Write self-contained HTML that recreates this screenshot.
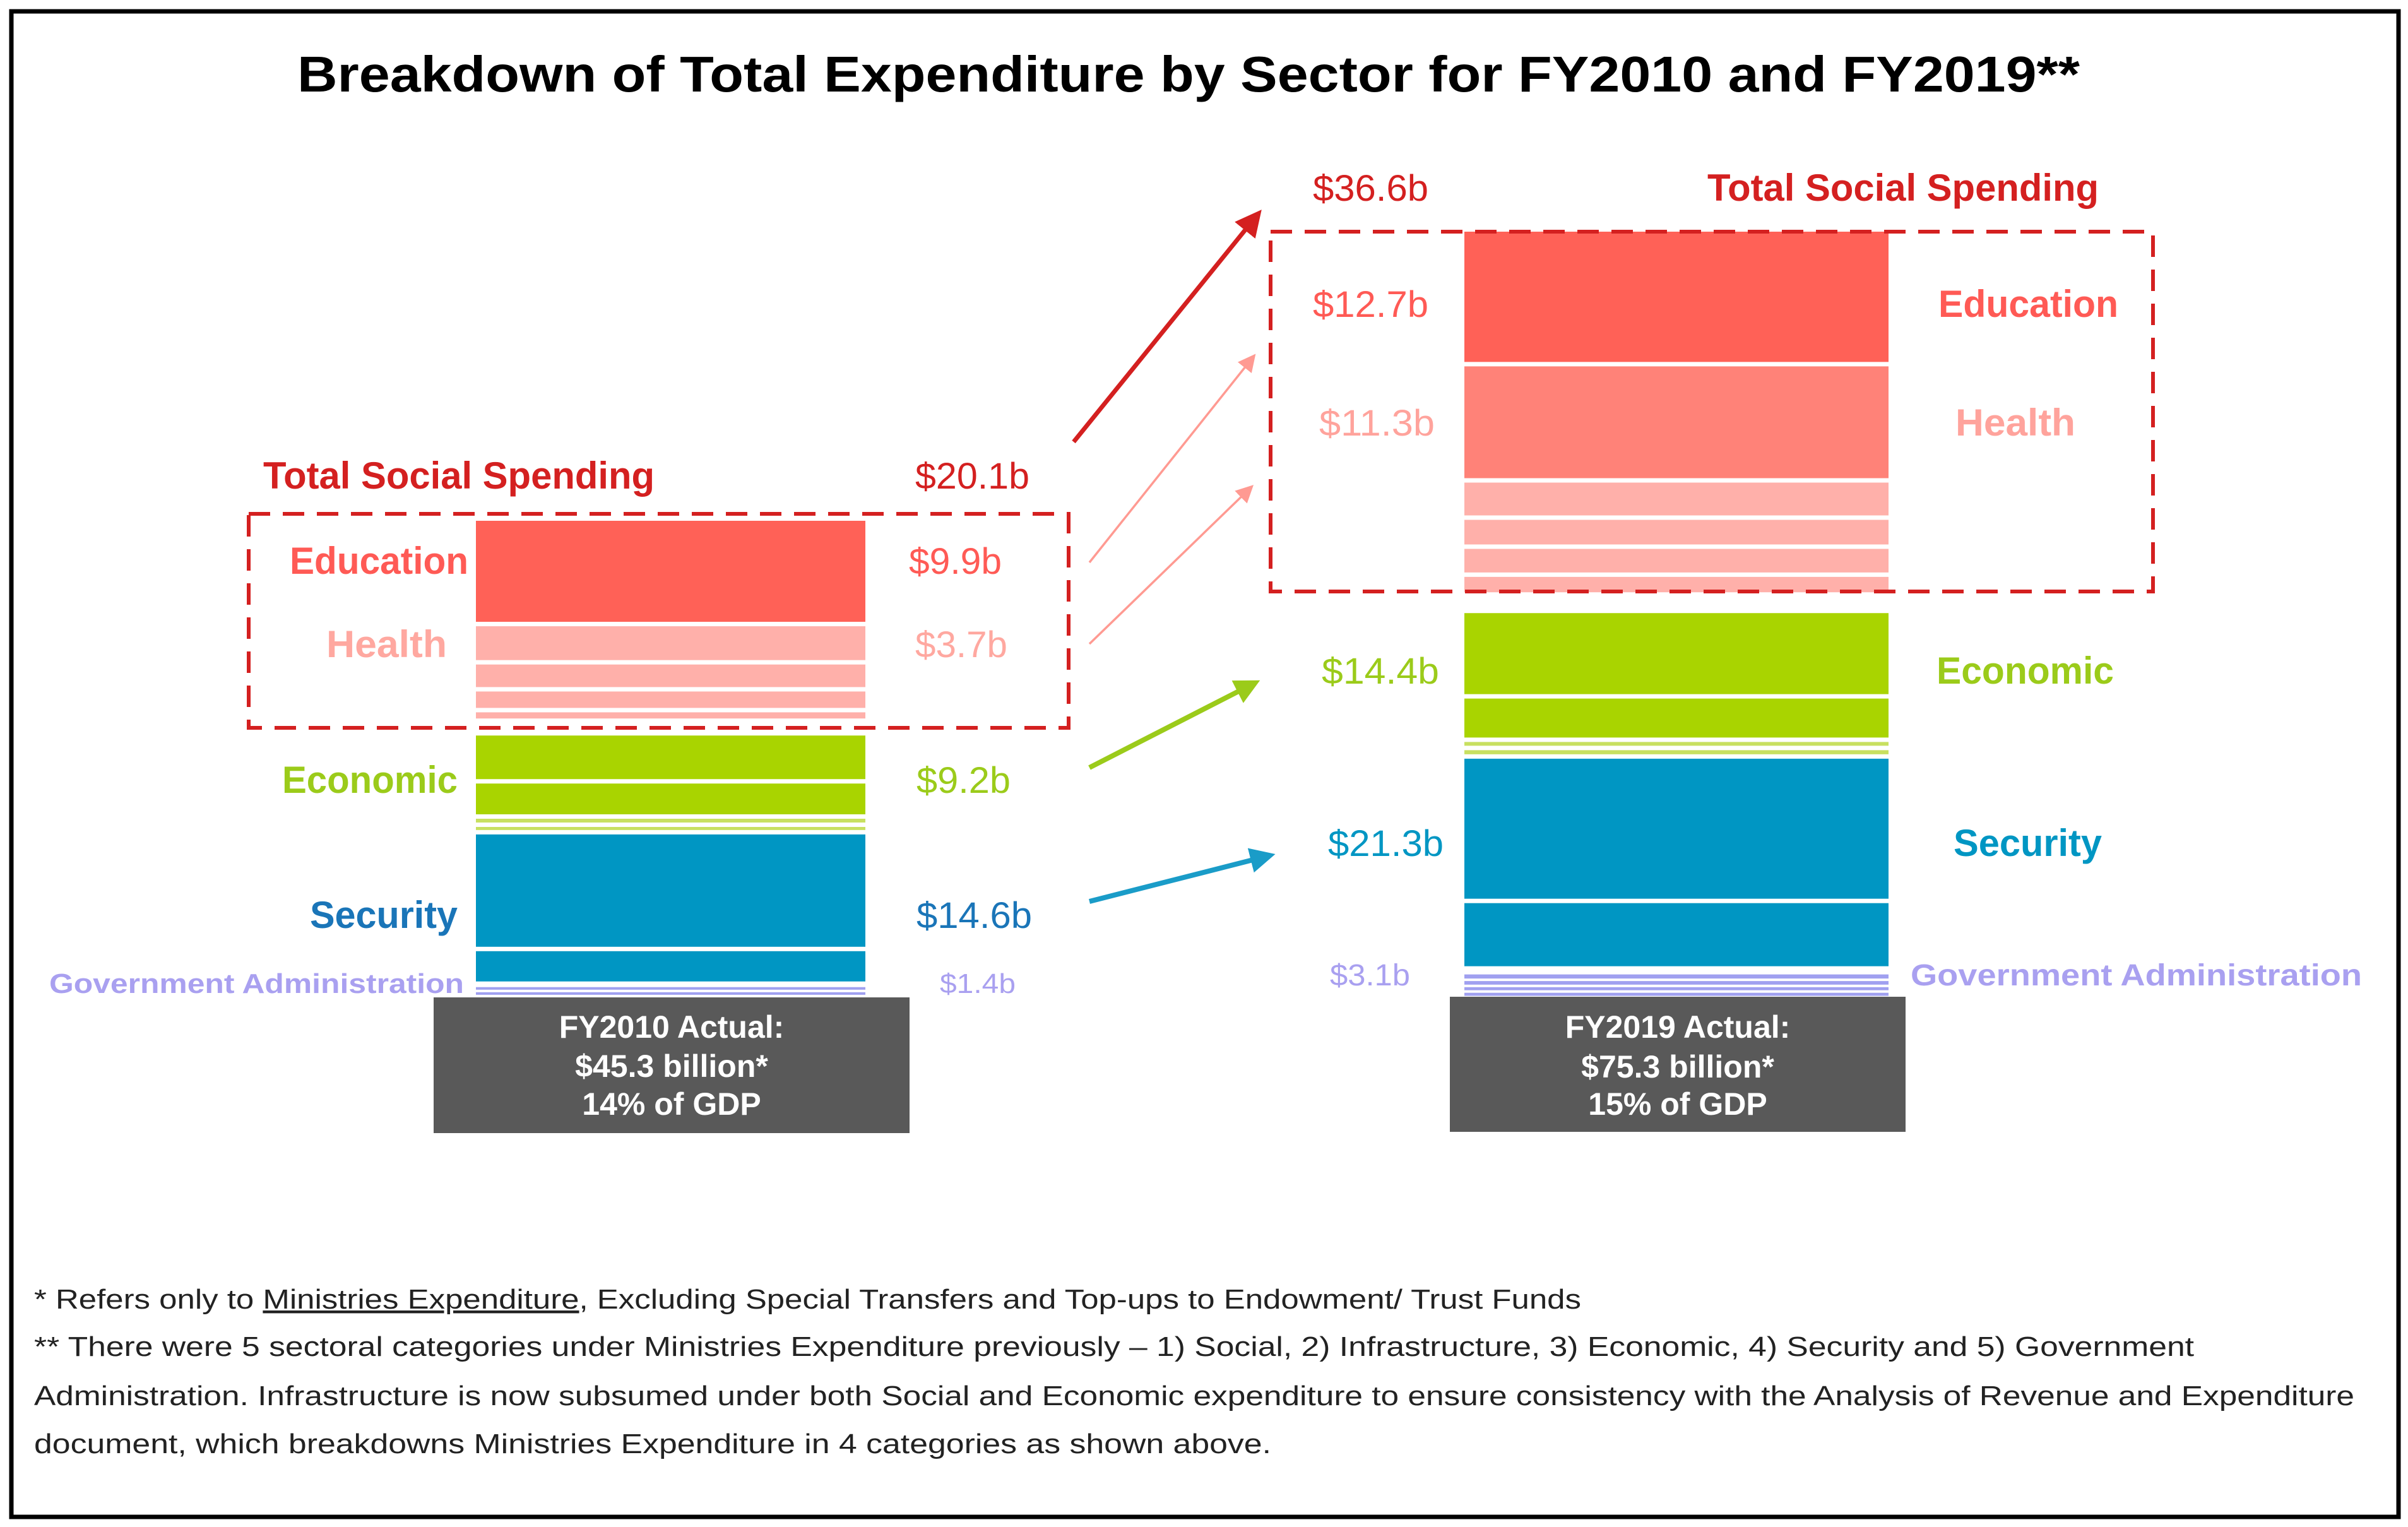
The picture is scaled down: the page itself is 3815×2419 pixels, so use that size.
<!DOCTYPE html>
<html><head><meta charset="utf-8"><style>
html,body{margin:0;padding:0;background:#fff;}
svg{display:block;font-family:"Liberation Sans",sans-serif;}
</style></head><body>
<svg id="chart" xmlns="http://www.w3.org/2000/svg" width="3815" height="2419" viewBox="0 0 3815 2419">
<defs>
<marker id="ah-red" markerWidth="6" markerHeight="6" refX="4" refY="3" orient="auto" markerUnits="strokeWidth"><path d="M0,0 L6,3 L0,6 z" fill="#D42020"/></marker>
<marker id="ah-pink" markerWidth="8" markerHeight="8" refX="6" refY="4" orient="auto" markerUnits="strokeWidth"><path d="M0,0 L8,4 L0,8 z" fill="#FF9A92"/></marker>
<marker id="ah-green" markerWidth="5" markerHeight="5" refX="3" refY="2.5" orient="auto" markerUnits="strokeWidth"><path d="M0,0 L5,2.5 L0,5 z" fill="#9BCB1A"/></marker>
<marker id="ah-blue" markerWidth="5" markerHeight="5" refX="3" refY="2.5" orient="auto" markerUnits="strokeWidth"><path d="M0,0 L5,2.5 L0,5 z" fill="#1A9CC8"/></marker>
</defs>
<rect x="18" y="18" width="3782" height="2385" fill="#fff" stroke="#000" stroke-width="7"/>
<text x="471" y="145" font-size="80" font-weight="bold" fill="#000" textLength="2824" lengthAdjust="spacingAndGlyphs">Breakdown of Total Expenditure by Sector for FY2010 and FY2019**</text>

<g id="bars"></g>

<rect x="394" y="814" width="1299" height="339" fill="none" stroke="#D42020" stroke-width="6" stroke-dasharray="34,20"/>
<rect x="2013" y="367" width="1398" height="570" fill="none" stroke="#D42020" stroke-width="6" stroke-dasharray="34,20"/>

<!-- arrows -->
<line x1="1701" y1="700" x2="1990" y2="343" stroke="#D42020" stroke-width="7" marker-end="url(#ah-red)"/>
<line x1="1726" y1="891" x2="1985" y2="566" stroke="#FF9A92" stroke-width="3.5" marker-end="url(#ah-pink)"/>
<line x1="1726" y1="1020" x2="1981" y2="773" stroke="#FF9A92" stroke-width="3.5" marker-end="url(#ah-pink)"/>
<line x1="1726" y1="1216" x2="1982" y2="1085" stroke="#9BCB1A" stroke-width="8" marker-end="url(#ah-green)"/>
<line x1="1726" y1="1428" x2="2005" y2="1357" stroke="#1A9CC8" stroke-width="8" marker-end="url(#ah-blue)"/>

<!-- left labels -->
<g font-weight="bold" font-size="60">
<text x="417" y="774" fill="#D42020" textLength="620" lengthAdjust="spacingAndGlyphs">Total Social Spending</text>
<text x="459" y="909" fill="#FF5A55" textLength="283" lengthAdjust="spacingAndGlyphs">Education</text>
<text x="517" y="1041" fill="#FFA8A0" textLength="191" lengthAdjust="spacingAndGlyphs">Health</text>
<text x="447" y="1256" fill="#9BCB1A" textLength="278" lengthAdjust="spacingAndGlyphs">Economic</text>
<text x="491" y="1470" fill="#1A75B8" textLength="234" lengthAdjust="spacingAndGlyphs">Security</text>
<text x="78" y="1573" font-size="44" fill="#A9A0F0" textLength="657" lengthAdjust="spacingAndGlyphs">Government Administration</text>
</g>
<g font-size="58">
<text x="1450" y="774" fill="#D42020" textLength="181" lengthAdjust="spacingAndGlyphs">$20.1b</text>
<text x="1440" y="909" fill="#FF5A55" textLength="147" lengthAdjust="spacingAndGlyphs">$9.9b</text>
<text x="1450" y="1041" fill="#FFA8A0" textLength="146" lengthAdjust="spacingAndGlyphs">$3.7b</text>
<text x="1452" y="1256" fill="#9BCB1A" textLength="149" lengthAdjust="spacingAndGlyphs">$9.2b</text>
<text x="1452" y="1470" fill="#1A75B8" textLength="183" lengthAdjust="spacingAndGlyphs">$14.6b</text>
<text x="1489" y="1573" font-size="44" fill="#A9A0F0" textLength="120" lengthAdjust="spacingAndGlyphs">$1.4b</text>
</g>

<!-- right labels -->
<g font-weight="bold" font-size="60">
<text x="2705" y="318" fill="#D42020" textLength="620" lengthAdjust="spacingAndGlyphs">Total Social Spending</text>
<text x="3071" y="502" fill="#FF5A55" textLength="285" lengthAdjust="spacingAndGlyphs">Education</text>
<text x="3098" y="690" fill="#FFA39C" textLength="190" lengthAdjust="spacingAndGlyphs">Health</text>
<text x="3068" y="1083" fill="#9BCB1A" textLength="281" lengthAdjust="spacingAndGlyphs">Economic</text>
<text x="3095" y="1356" fill="#0096C3" textLength="235" lengthAdjust="spacingAndGlyphs">Security</text>
<text x="3027" y="1561" font-size="48" fill="#A9A0F0" textLength="715" lengthAdjust="spacingAndGlyphs">Government Administration</text>
</g>
<g font-size="58">
<text x="2080" y="318" fill="#D42020" textLength="183" lengthAdjust="spacingAndGlyphs">$36.6b</text>
<text x="2080" y="502" fill="#FF5A55" textLength="183" lengthAdjust="spacingAndGlyphs">$12.7b</text>
<text x="2090" y="690" fill="#FFA39C" textLength="183" lengthAdjust="spacingAndGlyphs">$11.3b</text>
<text x="2094" y="1083" fill="#9BCB1A" textLength="186" lengthAdjust="spacingAndGlyphs">$14.4b</text>
<text x="2104" y="1356" fill="#0096C3" textLength="183" lengthAdjust="spacingAndGlyphs">$21.3b</text>
<text x="2107" y="1561" font-size="48" fill="#A9A0F0" textLength="127" lengthAdjust="spacingAndGlyphs">$3.1b</text>
</g>

<!-- total boxes -->
<rect x="687" y="1580" width="754" height="215" fill="#595959"/>
<g font-weight="bold" font-size="50" fill="#fff" text-anchor="middle">
<text x="1064" y="1644">FY2010 Actual:</text>
<text x="1064" y="1706">$45.3 billion*</text>
<text x="1064" y="1766">14% of GDP</text>
</g>
<rect x="2297" y="1579" width="722" height="214" fill="#595959"/>
<g font-weight="bold" font-size="50" fill="#fff" text-anchor="middle">
<text x="2658" y="1644">FY2019 Actual:</text>
<text x="2658" y="1707">$75.3 billion*</text>
<text x="2658" y="1766">15% of GDP</text>
</g>

<!-- footnotes -->
<g font-size="44" fill="#222">
<text x="54" y="2073" textLength="2451" lengthAdjust="spacingAndGlyphs">* Refers only to <tspan text-decoration="underline">Ministries Expenditure</tspan>, Excluding Special Transfers and Top-ups to Endowment/ Trust Funds</text>
<text x="54" y="2148" textLength="3422" lengthAdjust="spacingAndGlyphs">** There were 5 sectoral categories under Ministries Expenditure previously – 1) Social, 2) Infrastructure, 3) Economic, 4) Security and 5) Government</text>
<text x="54" y="2226" textLength="3676" lengthAdjust="spacingAndGlyphs">Administration. Infrastructure is now subsumed under both Social and Economic expenditure to ensure consistency with the Analysis of Revenue and Expenditure</text>
<text x="54" y="2302" textLength="1960" lengthAdjust="spacingAndGlyphs">document, which breakdowns Ministries Expenditure in 4 categories as shown above.</text>
</g>
</svg>
<script>
// Segment values ($b) per bar, stacked top to bottom within sector groups
const sectors = ["social", "economic", "security", "government"];
const segs2010Social = [9.85, 3.3, 2.2, 1.6, 0.6];
const segs2010Economic = [4.25, 3.0, 0.37, 0.3];
const segs2010Security = [10.95, 2.95];
const segs2010Gov = [0.25, 0.25];
const segs2019Social = [12.7, 10.9, 3.2, 2.4, 2.3, 1.5];
const segs2019Economic = [7.9, 3.8, 0.37, 0.4];
const segs2019Security = [13.65, 6.15];
const segs2019Gov = [0.4, 0.35, 0.3, 0.3];

const K = 16.25; // px per $b
const GAP = 7;
const NS = "http://www.w3.org/2000/svg";
const g = document.getElementById("bars");

function colorFor(sector, i, year) {
  if (sector === "social") {
    if (i === 0) return "#FF6157";
    if (i === 1 && year === 2019) return "#FF8278";
    return "#FFB0AA";
  }
  if (sector === "economic") return i < 2 ? "#A9D400" : "#C8E060";
  if (sector === "security") return "#0096C3";
  return "#A0A0F0";
}

function drawBar(year, x, w, top, groups, groupGaps) {
  let y = top;
  groups.forEach(function (vals, gi) {
    vals.forEach(function (v, i) {
      const h = Math.max(3, v * K);
      const r = document.createElementNS(NS, "rect");
      r.setAttribute("x", x);
      r.setAttribute("y", y);
      r.setAttribute("width", w);
      r.setAttribute("height", h);
      r.setAttribute("fill", colorFor(sectors[gi], i, year));
      
      
      g.appendChild(r);
      y += h + (sectors[gi] === "government" ? 4 : GAP);
    });
    y += groupGaps[gi];
  });
}

drawBar(2010, 754, 617, 825, [segs2010Social, segs2010Economic, segs2010Security, segs2010Gov], [20, 0, 2, 0]);
drawBar(2019, 2320, 672, 367, [segs2019Social, segs2019Economic, segs2019Security, segs2019Gov], [26, 0, 6, 0]);
</script>
</body></html>
